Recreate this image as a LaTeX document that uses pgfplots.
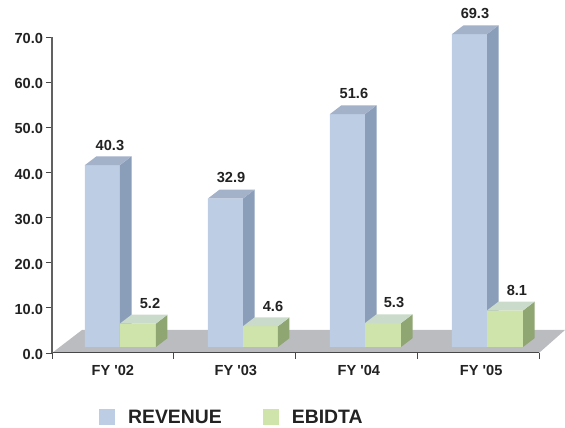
\documentclass[border=0pt]{standalone}
\usepackage{fontspec}
\setmainfont{Liberation Sans}
\usepackage{pgfplots}
\pgfplotsset{compat=1.18}

\definecolor{revfront}{HTML}{BDCDE4}
\definecolor{revside}{HTML}{8A9EBA}
\definecolor{revtop}{HTML}{A3B1C9}
\definecolor{ebfront}{HTML}{CFE4AB}
\definecolor{ebside}{HTML}{8FA673}
\definecolor{ebtop}{HTML}{CBDBCB}
\definecolor{floorgray}{HTML}{BBBCC0}
\definecolor{txt}{HTML}{222222}

% one 3D column: x0, x1, value, front, side, top
\newcommand{\column}[6]{%
  \pgfmathsetmacro{\xa}{#1}%
  \pgfmathsetmacro{\xb}{#2}%
  \pgfmathsetmacro{\xc}{#2+0.0945}%
  \pgfmathsetmacro{\xd}{#1+0.0945}%
  \pgfmathsetmacro{\ya}{1.33}%
  \pgfmathsetmacro{\yb}{1.33+#3}%
  \pgfmathsetmacro{\yc}{1.33+#3+1.95}%
  \pgfmathsetmacro{\yd}{1.33+1.95}%
  \addplot[forget plot,draw=none,fill=#4] coordinates {(\xa,\ya)(\xb,\ya)(\xb,\yb)(\xa,\yb)(\xa,\ya)};
  \addplot[forget plot,draw=none,fill=#5] coordinates {(\xb,\ya)(\xc,\yd)(\xc,\yc)(\xb,\yb)(\xb,\ya)};
  \addplot[forget plot,draw=none,fill=#6] coordinates {(\xa,\yb)(\xb,\yb)(\xc,\yc)(\xd,\yc)(\xa,\yb)};
}

\begin{document}
\begin{tikzpicture}[x=1pt,y=1pt]
  \useasboundingbox (0,0) rectangle (565,428);
  \begin{axis}[
    at={(52pt,75pt)},
    anchor=south west,
    scale only axis,
    width=487pt,
    height=316pt,
    xmin=0, xmax=4,
    ymin=0, ymax=70,
    clip=false,
    axis on top,
    axis lines=left,
    x axis line style={-,color=black!72,line width=1pt},
    y axis line style={-,color=black!62,line width=1.6pt},
    tick style={color=black!72,line width=0.9pt},
    tick align=outside,
    major tick length=6pt,
    ytick={0,10,...,70},
    xtick={0,1,2,3,4},
    xticklabels={,,,,},
    extra x ticks={0.5,1.51,2.52,3.525},
    extra x tick labels={FY \textquotesingle 02,FY \textquotesingle 03,FY \textquotesingle 04,FY \textquotesingle 05},
    extra x tick style={major tick length=0pt,tick label style={yshift=-9pt}},
    /pgf/number format/assume math mode=true,
    /pgf/number format/fixed,
    /pgf/number format/fixed zerofill,
    /pgf/number format/precision=1,
    tick label style={font=\fontsize{14.6}{16}\selectfont\bfseries,text=txt},
    yticklabel style={yshift=-1.6pt,xshift=0.5pt},
    legend image code/.code={\fill[#1] (0pt,-8pt) rectangle (16pt,8pt);},
    legend style={at={(axis cs:0.385,-14.2)},anchor=west,draw=none,fill=none,
      font=\fontsize{19.4}{21}\selectfont\bfseries,text=txt,legend columns=2,
      inner sep=0pt,
      /tikz/every odd column/.append style={column sep=11pt},
      /tikz/every even column/.append style={column sep=39pt}},
    nodes near coords style={font=\fontsize{14.6}{16}\selectfont\bfseries,text=txt,anchor=center,inner sep=0pt},
  ]
    % floor
    \addplot[forget plot,draw=none,fill=floorgray] coordinates {(0,0)(4,0)(4.2136,5.1)(0.2464,5.1)(0,0)};

    \addlegendimage{fill=revfront,draw=none}
    \addlegendentry{REVENUE}
    \addlegendimage{fill=ebfront,draw=none}
    \addlegendentry{EBIDTA}

    % revenue behind, ebidta in front
    \column{0.271}{0.5585}{40.3}{revfront}{revside}{revtop}
    \column{0.5585}{0.854}{5.2}{ebfront}{ebside}{ebtop}
    \column{1.281}{1.569}{32.9}{revfront}{revside}{revtop}
    \column{1.569}{1.856}{4.6}{ebfront}{ebside}{ebtop}
    \column{2.283}{2.571}{51.6}{revfront}{revside}{revtop}
    \column{2.571}{2.867}{5.3}{ebfront}{ebside}{ebtop}
    \column{3.285}{3.573}{69.3}{revfront}{revside}{revtop}
    \column{3.573}{3.869}{8.1}{ebfront}{ebside}{ebtop}

    % value labels
    \addplot[forget plot,draw=none,mark=none,point meta=explicit symbolic,nodes near coords]
      coordinates {(0.476,45.9)[40.3] (1.470,38.8)[32.9] (2.48,57.4)[51.6] (3.474,75.1)[69.3]
                   (0.805,10.9)[5.2] (1.815,10.4)[4.6] (2.809,11.1)[5.3] (3.819,13.8)[8.1]};
  \end{axis}
\end{tikzpicture}
\end{document}
